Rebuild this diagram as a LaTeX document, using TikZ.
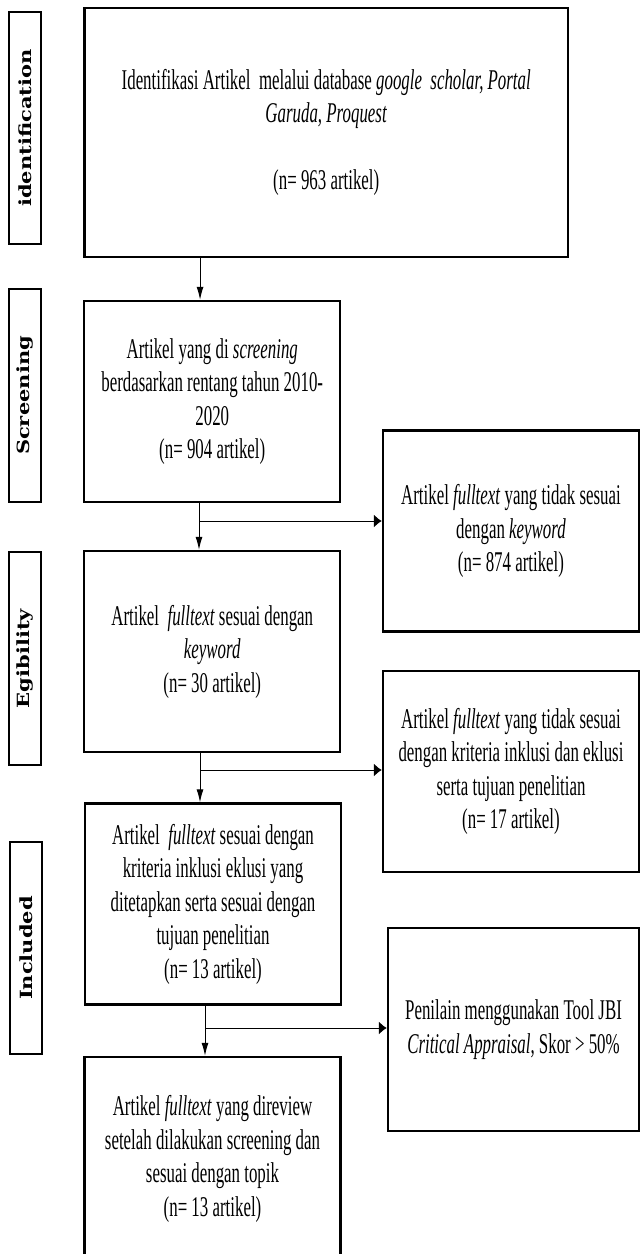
\documentclass[tikz,border=0pt]{standalone}
\usepackage{fontspec}
\usepackage{graphicx}
\setmainfont{Liberation Serif}[FakeStretch=0.59]
\newfontfamily\stagefont{DejaVu Serif}
\usetikzlibrary{arrows.meta}

\begin{document}
\begin{tikzpicture}[x=0.5pt, y=-0.5pt,
  every node/.style={font=\fontsize{14.3pt}{16.75pt}\selectfont, align=center, inner sep=0pt},
  box/.style={draw, line width=1.2pt, minimum width=128pt, minimum height=100.5pt},
  stage/.style={draw, line width=1.2pt, rotate=90, minimum width=#1, minimum height=16pt,
    font=\stagefont\bfseries\fontsize{10.5pt}{12pt}\selectfont},
  arrdown/.style={-{Latex[length=6.5pt,width=3.5pt]}, line width=0.5pt},
  arrright/.style={-{Latex[length=4pt,width=6.5pt]}, line width=0.5pt}]
  \useasboundingbox (0,0) rectangle (640,1254);
  % stage labels down the left side
  \node[stage=116pt] (lident) at (25,128) {\scalebox{1}[0.8]{identification}};
  \node[stage=106.5pt] (lscreen) at (25,395.5) {\scalebox{1}[0.8]{Screening}};
  \node[stage=106.5pt] (lelig) at (25,658.5) {\scalebox{1}[0.8]{Egibility}};
  \node[stage=106pt] (lincl) at (26,948) {\scalebox{1}[0.8]{Included}};
  % main column
  \node[box, minimum width=241.75pt, minimum height=124.5pt] (ident) at (326.25,132.5)
    {Identifikasi Artikel\ \ melalui database \textit{google\ \ scholar,\ Portal}\\
     \textit{Garuda, Proquest}\\[16.75pt] (n= 963 artikel)};
  \node[box] (screen) at (212.25,401.5)
    {Artikel yang di \textit{screening}\\ berdasarkan rentang tahun 2010-\\ 2020\\ (n= 904 artikel)};
  \node[box] (elig) at (212.25,651.5)
    {Artikel\ \ \textit{fulltext} sesuai dengan\\ \textit{keyword}\\ (n= 30 artikel)};
  \node[box] (incl) at (213,904)
    {Artikel\ \ \textit{fulltext} sesuai dengan\\ kriteria inklusi eklusi yang\\
     ditetapkan serta sesuai dengan\\ tujuan penelitian\\ (n= 13 artikel)};
  \node[box, minimum height=102pt] (final) at (212.5,1159)
    {Artikel \textit{fulltext} yang direview\\ setelah dilakukan screening dan\\
     sesuai dengan topik\\ (n= 13 artikel)};
  % side boxes
  \node[box] (excl1) at (511,531)
    {Artikel \textit{fulltext} yang tidak sesuai\\ dengan \textit{keyword}\\ (n= 874 artikel)};
  \node[box] (excl2) at (511,771.5)
    {Artikel \textit{fulltext} yang tidak sesuai\\ dengan kriteria inklusi dan eklusi\\
     serta tujuan penelitian\\ (n= 17 artikel)};
  \node[box, minimum width=125.5pt, minimum height=101.5pt] (jbi) at (513.5,1029.5)
    {Penilain menggunakan Tool JBI\\ \textit{Critical Appraisal}, Skor > 50\%};
  % connectors
  \draw[arrdown] ([xshift=-6.1pt]screen.north |- ident.south) -- ([xshift=-6.1pt]screen.north);
  \coordinate (fork1) at (199,521);
  \coordinate (fork2) at (200,770);
  \coordinate (fork3) at (205,1028);
  \draw[line width=0.5pt] (fork1 |- screen.south) -- (fork1);
  \draw[arrdown] (fork1) -- (fork1 |- elig.north);
  \draw[arrright] (fork1) -- (fork1 -| excl1.west);
  \draw[line width=0.5pt] (fork2 |- elig.south) -- (fork2);
  \draw[arrdown] (fork2) -- (fork2 |- incl.north);
  \draw[arrright] (fork2) -- (fork2 -| excl2.west);
  \draw[line width=0.5pt] (fork3 |- incl.south) -- (fork3);
  \draw[arrdown] (fork3) -- (fork3 |- final.north);
  \draw[arrright] (fork3) -- (fork3 -| jbi.west);
\end{tikzpicture}
\end{document}
